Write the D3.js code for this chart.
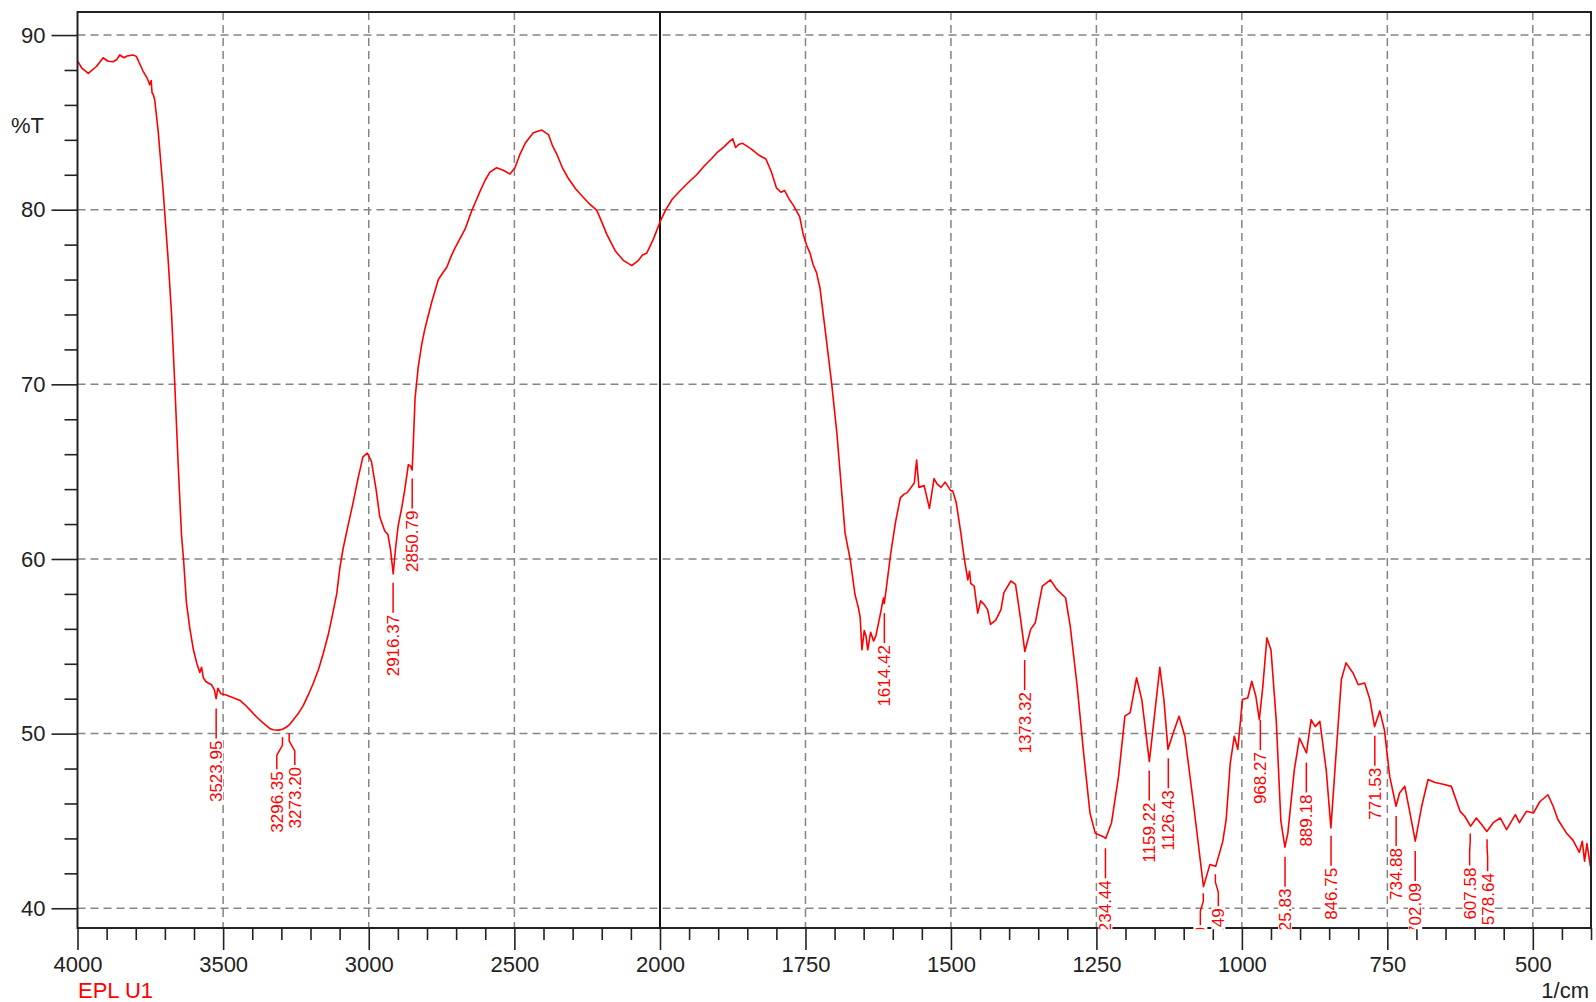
<!DOCTYPE html>
<html lang="en">
<head>
    <meta charset="utf-8">
    <title>EPL U1</title>
    <script src="https://d3js.org/d3.v7.min.js"></script>
    <style>
        body { margin: 0; background: #fff; }
        * { font-family: "Liberation Sans", Arial, sans-serif; }
        .grid { stroke: #858585; stroke-width: 1.5; stroke-dasharray: 8,5; fill: none; }
        .tick text { font-size: 22px; fill: #222; }
        .tick line { stroke: #222; stroke-width: 1.6; }
        .peak text { font-size: 17px; fill: #ff0000; }
    </style>
</head>
<body>
<svg class="spectrum"></svg>
<script>
const wavenumbers = [4000,3985,3963,3935,3912,3895,3878,3865,3855,3840,3830,3809,3798,3775,3760,3752,3747,3744,3740,3735,
  3723,3706,3689,3677,3666,3654,3643,3636,3626,3614,3602,3590,3580,3574,3568,3560,3551,3540,3530,3524,
  3518,3508,3488,3465,3442,3425,3408,3385,3362,3340,3328,3310,3296,3285,3273,3259,3240,3225,3208,3190,
  3172,3156,3140,3127,3110,3099,3088,3070,3054,3037,3020,3005,2991,2975,2962,2945,2934,2925,2916,2908,
  2899,2886,2876,2864,2856,2851,2847,2841,2830,2818,2807,2784,2761,2745,2732,2718,2704,2669,2646,2632,
  2618,2600,2584,2561,2538,2515,2498,2480,2463,2435,2406,2383,2370,2355,2335,2315,2290,2263,2240,2217,
  2200,2183,2154,2126,2097,2074,2060,2046,2023,2000,1990,1979,1965,1950,1937,1924,1912,1901,1890,1881,
  1875,1870,1864,1858,1844,1829,1818,1809,1800,1792,1786,1778,1771,1760,1754,1748,1742,1737,1731,1725,
  1717,1705,1696,1682,1673,1665,1659,1656,1653,1649,1646,1643,1638,1633,1629,1621,1616,1614.5,1610,1604,
  1595,1587,1581,1575,1563,1559,1555,1546,1537,1529,1524,1517,1510,1506,1500,1497,1491,1483,1477,1471,
  1468,1466,1460,1454,1449,1443,1437,1432,1423,1414,1409,1397,1389,1380,1373,1363,1355,1343,1329,1318,
  1303,1295,1283,1272,1261,1252,1238,1234,1224,1212,1201,1192,1181,1172,1159,1149,1141,1134,1127,1118,
  1108,1098,1084,1066,1055,1045,1033,1027,1020,1013,1007,999,990,983,976,970,964,957,950,941,
  933,926,921,910,901,889,881,874,866,855,847,838,829,821,809,800,789,780,772,763,
  755,746,735,729,720,712,702,691,680,668,654,640,625,617,607,597,588,579,568,556,
  545,530,523,511,499,488,474,465,457,442,431,420,415,411,407,401];
const transmittance = [88.52,88.1,87.8,88.2,88.7,88.5,88.47,88.6,88.86,88.7,88.8,88.86,88.78,87.94,87.5,87.15,87.4,86.7,86.6,86.3,
  84.5,81.1,77.2,74.0,70.0,65.3,61.4,60.0,57.5,56.0,54.8,54.0,53.5,53.8,53.2,53.0,52.9,52.8,52.5,52.0,
  52.6,52.3,52.2,52.05,51.9,51.65,51.36,50.95,50.6,50.3,50.22,50.2,50.25,50.35,50.5,50.8,51.2,51.6,52.2,52.9,
  53.7,54.6,55.6,56.6,58.0,59.5,60.6,62.0,63.2,64.6,65.85,66.06,65.6,64.0,62.4,61.6,61.4,60.5,59.15,60.6,
  61.9,63.0,64.0,65.4,65.3,65.1,66.6,69.2,71.0,72.3,73.2,74.7,76.0,76.4,76.7,77.3,77.8,78.9,79.96,80.5,
  81.05,81.7,82.15,82.4,82.26,82.04,82.4,83.2,83.8,84.4,84.56,84.3,83.7,83.2,82.4,81.8,81.2,80.7,80.3,79.96,
  79.3,78.6,77.65,77.1,76.8,77.1,77.4,77.5,78.3,79.3,80.0,80.6,81.1,81.6,82.0,82.5,82.9,83.3,83.6,83.9,
  84.06,83.56,83.75,83.8,83.5,83.1,82.9,82.2,81.25,81.0,81.1,80.6,80.26,79.6,78.6,77.96,77.5,76.86,76.4,75.5,
  73.35,70.05,67.2,61.5,59.95,57.98,57.2,56.66,54.8,55.9,55.6,54.8,55.8,55.3,55.6,56.9,57.76,57.45,58.6,60.2,
  62.15,63.5,63.7,63.8,64.35,65.66,64.1,64.2,62.9,64.6,64.3,64.1,64.4,64.2,63.9,63.9,63.25,61.5,60.0,58.8,
  59.3,58.6,58.45,56.9,57.6,57.4,57.1,56.25,56.5,57.1,58.07,58.74,58.55,56.5,54.7,55.97,56.35,58.45,58.8,58.26,
  57.78,56.16,52.7,48.9,45.45,44.3,44.1,44.0,44.9,47.55,51.0,51.2,53.2,51.95,48.4,51.4,53.8,51.95,49.1,50.04,
  51.0,49.85,46.2,41.24,42.5,42.4,43.8,45.07,48.3,49.85,49.1,51.95,52.04,53.0,52.14,50.8,52.7,55.48,54.8,50.8,
  45.0,43.5,44.3,47.9,49.75,48.9,50.8,50.4,50.7,47.9,44.6,48.9,53.1,54.05,53.47,52.8,52.9,51.95,50.4,51.3,
  50.2,47.55,45.84,46.6,46.98,45.6,43.84,45.84,47.37,47.2,47.1,46.98,45.55,45.27,44.7,45.17,44.8,44.4,44.9,45.17,
  44.5,45.36,44.9,45.55,45.45,46.1,46.5,45.84,45.08,44.3,43.9,43.2,43.84,42.7,43.7,42.4];

// peak picks
const peakWavenumbers = [3523.95,3296.35,3273.20,2916.37,2850.79,1614.42,1373.32,1234.44,1159.22,1126.43,
  1066.30,1045.49,968.27,925.83,889.18,846.75,771.53,734.88,702.09,607.58,578.64];

// axes
const xMajorTicks = [4000,3500,3000,2500,2000,1750,1500,1250,1000,750,500];
const xGridValues = [3500,3000,2500,1750,1500,1250,1000,750,500];
const yMajorTicks = [40,50,60,70,80,90];
const sampleName = "EPL U1";
const xUnit = "1/cm";
const yUnit = "%T";

const W = 1596, H = 1002;
const plot = {left: 77.5, top: 12, right: 1591, bottom: 928};

const svg = d3.select("svg.spectrum")
    .attr("width", W)
    .attr("height", H);

svg.append("rect").attr("width", W).attr("height", H).attr("fill", "#fff");

// two linear pieces: 4000-2000 compressed, 2000-400 expanded
const x = d3.scaleLinear()
    .domain([4000, 2000, 400])
    .range([plot.left, 660, plot.right]);
const y = d3.scaleLinear()
    .domain([38.87, 91.32])
    .range([plot.bottom, plot.top]);

svg.append("defs").append("clipPath").attr("id", "plotclip")
  .append("rect")
    .attr("x", plot.left).attr("y", plot.top)
    .attr("width", plot.right - plot.left)
    .attr("height", plot.bottom - plot.top + 1.2);

// grid
svg.append("g").selectAll("line")
    .data(yMajorTicks)
    .enter().append("line")
    .attr("class", "grid")
    .attr("x1", plot.left).attr("x2", plot.right)
    .attr("y1", d => y(d)).attr("y2", d => y(d));
svg.append("g").selectAll("line")
    .data(xGridValues)
    .enter().append("line")
    .attr("class", "grid")
    .attr("x1", d => x(d)).attr("x2", d => x(d))
    .attr("y1", plot.top).attr("y2", plot.bottom);
// scale break line at 2000
svg.append("line")
    .attr("x1", x(2000)).attr("x2", x(2000))
    .attr("y1", plot.top).attr("y2", plot.bottom)
    .attr("stroke", "#111").attr("stroke-width", 2);

// spectrum
const points = wavenumbers.map((w, i) => [w, transmittance[i]]);
svg.append("path")
    .datum(points)
    .attr("clip-path", "url(#plotclip)")
    .attr("fill", "none")
    .attr("stroke", "#ff0000")
    .attr("stroke-width", 1.6)
    .attr("stroke-linejoin", "round")
    .attr("d", d3.line().x(d => x(d[0])).y(d => y(d[1])));

// frame
svg.append("rect")
    .attr("x", plot.left).attr("y", plot.top)
    .attr("width", plot.right - plot.left)
    .attr("height", plot.bottom - plot.top)
    .attr("fill", "none")
    .attr("stroke", "#222")
    .attr("stroke-width", 2);

// y axis: major + minor
const yMinor = d3.range(40, 91, 2).filter(v => v % 10 != 0);
svg.append("g")
    .attr("transform", "translate(" + plot.left + ",0)")
    .call(d3.axisLeft(y).tickValues(yMinor).tickSize(13).tickFormat(""))
    .call(g => g.select(".domain").remove());
svg.append("g")
    .attr("transform", "translate(" + plot.left + ",0)")
    .call(d3.axisLeft(y).tickValues(yMajorTicks).tickSize(26).tickPadding(6))
    .call(g => g.select(".domain").remove());

// x axis: major + minor (100 steps left of 2000, 50 steps right)
const xMinor = d3.range(4000, 2000, -100).concat(d3.range(2000, 399, -50))
    .filter(v => xMajorTicks.indexOf(v) < 0);
svg.append("g")
    .attr("transform", "translate(0," + plot.bottom + ")")
    .call(d3.axisBottom(x).tickValues(xMinor).tickSize(12).tickFormat(""))
    .call(g => g.select(".domain").remove());
svg.append("g")
    .attr("transform", "translate(0," + plot.bottom + ")")
    .call(d3.axisBottom(x).tickValues(xMajorTicks).tickSize(22).tickPadding(6).tickFormat(d3.format("d")))
    .call(g => g.select(".domain").remove());

svg.append("text")
    .attr("x", 11).attr("y", 133)
    .attr("font-size", 22).attr("fill", "#222")
    .text(yUnit);
svg.append("text")
    .attr("x", plot.right - 2).attr("y", 998)
    .attr("text-anchor", "end")
    .attr("font-size", 22).attr("fill", "#222")
    .text(xUnit);
svg.append("text")
    .attr("x", 78).attr("y", 998)
    .attr("font-size", 22).attr("fill", "#ff0000")
    .text(sampleName);

// peak labels
function valueAt(w) {
  for (let i = 0; i < wavenumbers.length - 1; i++) {
    if (wavenumbers[i] >= w && wavenumbers[i + 1] <= w) {
      let t = (wavenumbers[i] - w) / (wavenumbers[i] - wavenumbers[i + 1]);
      return transmittance[i] + t * (transmittance[i + 1] - transmittance[i]);
    }
  }
  return transmittance[transmittance.length - 1];
}

let peaks = peakWavenumbers.map(w => ({w: w, xp: x(w), yp: y(valueAt(w))}));
peaks.sort((a, b) => a.xp - b.xp);
peaks.forEach(p => p.xl = p.xp);
// push apart labels that would overlap
const minSep = 18;
for (let i = 0; i < peaks.length - 1; i++) {
  let a = peaks[i], b = peaks[i + 1];
  if (b.xp - a.xp < minSep) {
    let c = (a.xp + b.xp) / 2;
    a.xl = c - minSep / 2;
    b.xl = c + minSep / 2;
    a.bent = b.bent = true;
  }
}

const labels = svg.append("g")
    .attr("class", "peak")
    .attr("clip-path", "url(#plotclip)");

peaks.forEach(p => {
  let g = labels.append("g");
  let top = p.yp + 42;
  let txt = g.append("text")
      .attr("transform", "translate(" + p.xl + "," + top + ") rotate(-90)")
      .attr("text-anchor", "end")
      .attr("dy", "0.35em")
      .text(p.w.toFixed(2));
  let len = txt.node().getComputedTextLength();
  g.insert("rect", "text")
      .attr("x", p.xl - 7).attr("y", top - 1)
      .attr("width", 14).attr("height", len + 2)
      .attr("fill", "#fff");
  let pts = p.bent
      ? [[p.xp, p.yp + 8], [p.xp, p.yp + 16], [p.xl, p.yp + 26], [p.xl, p.yp + 40]]
      : [[p.xp, p.yp + 10], [p.xp, p.yp + 40]];
  g.append("path")
      .attr("d", d3.line()(pts))
      .attr("fill", "none")
      .attr("stroke", "#ff0000")
      .attr("stroke-width", 1.5);
});
</script>
</body>
</html>
